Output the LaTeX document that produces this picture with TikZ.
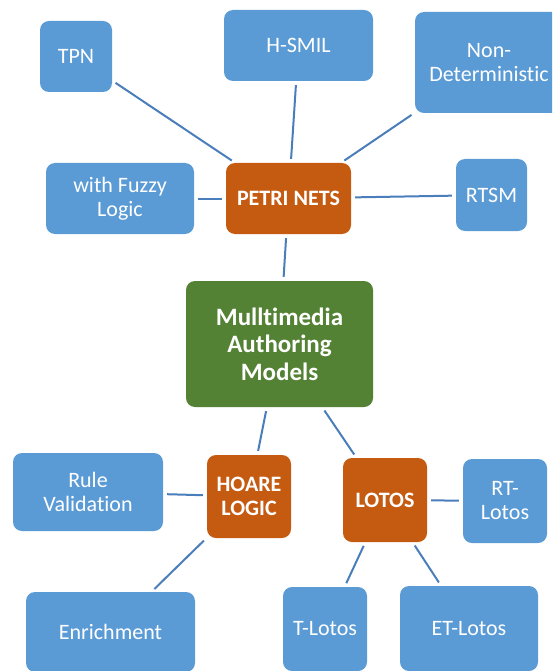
\documentclass[tikz,border=0pt]{standalone}
\usepackage{fontspec}
\setmainfont{Carlito}[Ligatures=NoCommon]
\usepackage{tikz}
\definecolor{leafblue}{HTML}{5B9BD5}
\definecolor{huborange}{HTML}{C55A11}
\definecolor{rootgreen}{HTML}{548235}
\definecolor{linkblue}{HTML}{4A7EBB}

\begin{document}
\begin{tikzpicture}[x=1pt, y=-1pt,
	every node/.style={rounded corners=9pt, inner sep=0pt, align=center, text=white},
	leaf/.style={fill=leafblue, font=\fontsize{22}{24}\selectfont},
	hub/.style={fill=huborange, font=\fontsize{22}{24}\selectfont\bfseries},
	root/.style={fill=rootgreen, font=\fontsize{25}{27.5}\selectfont\bfseries},
	link/.style={draw=linkblue, line width=2pt, shorten <=4pt, shorten >=4pt}]
	\useasboundingbox (0, 0) rectangle (552, 671);
	\clip (0, 0) rectangle (552, 671);

	\node[root, minimum width=187pt, minimum height=126pt] (a) at (279.5, 344) {Mulltimedia\\Authoring\\Models};

	\node[hub, minimum width=125pt, minimum height=71pt] (b) at (288.5, 198.5) {PETRI NETS};
	\node[hub, minimum width=84pt, minimum height=83pt] (c) at (249, 496.5) {HOARE\\LOGIC};
	\node[hub, minimum width=84pt, minimum height=84pt] (d) at (385, 500) {LOTOS};

	\node[leaf, minimum width=72pt, minimum height=71pt] (e) at (76, 56.5) {TPN};
	\node[leaf, minimum width=149pt, minimum height=71pt] (f) at (298.5, 45.5) {H-SMIL};
	\node[leaf, minimum width=148pt, minimum height=101pt] (g) at (489, 62.5) {Non-\\Deterministic};
	\node[leaf, minimum width=148pt, minimum height=71pt] (h) at (120, 198.5) {with Fuzzy\\Logic};
	\node[leaf, minimum width=71pt, minimum height=72pt] (i) at (491.5, 195) {RTSM};

	\node[leaf, minimum width=150pt, minimum height=78pt] (j) at (88, 492) {Rule\\Validation};
	\node[leaf, minimum width=169pt, minimum height=80pt] (k) at (110.5, 632) {Enrichment};

	\node[leaf, minimum width=84pt, minimum height=84pt] (l) at (505, 501) {RT-\\Lotos};
	\node[leaf, minimum width=84pt, minimum height=84pt] (m) at (325, 629) {T-Lotos};
	\node[leaf, minimum width=138pt, minimum height=85pt] (n) at (469, 628.5) {ET-Lotos};

	\draw[link] (b) -- (a);
	\draw[link] (a) -- (c);
	\draw[link] (a) -- (d);
	\draw[link] (e) -- (b);
	\draw[link] (f) -- (b);
	\draw[link] (g) -- (b);
	\draw[link] (h) -- (b);
	\draw[link] (i) -- (b);
	\draw[link] (j) -- (c);
	\draw[link] (c) -- (k);
	\draw[link] (d) -- (l);
	\draw[link] (d) -- (m);
	\draw[link] (d) -- (n);
\end{tikzpicture}
\end{document}
